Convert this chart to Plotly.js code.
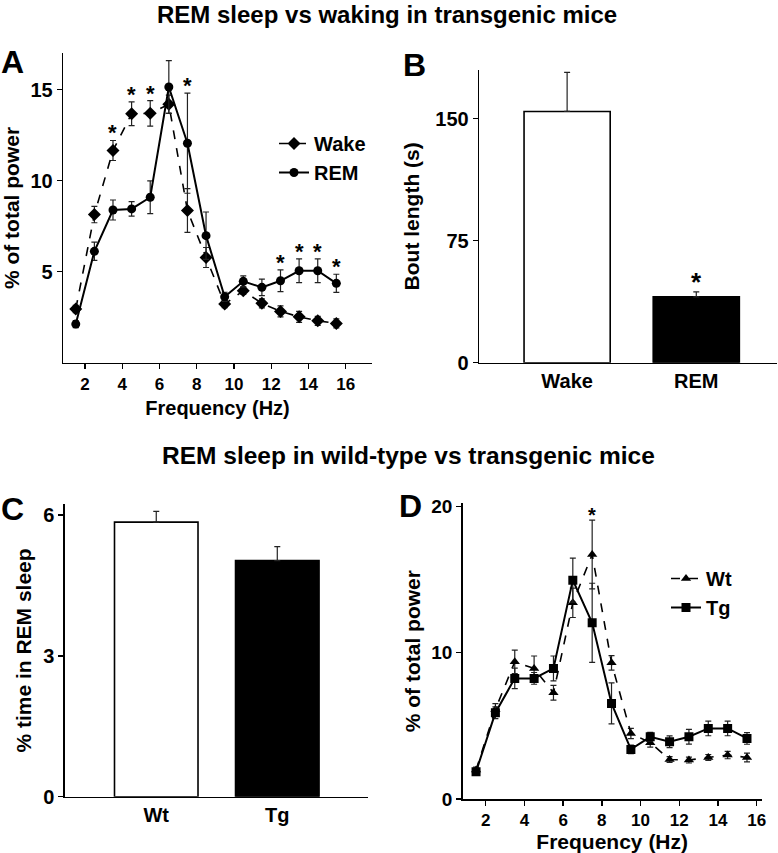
<!DOCTYPE html>
<html>
<head>
<meta charset="utf-8">
<script src="https://cdn.plot.ly/plotly-3.0.1.min.js"></script>
<style>html,body{margin:0;padding:0;background:#fff;}#chart{width:778px;height:853px;}</style>
</head>
<body>
<div id="chart"></div>
<script>
// ---- Data ----
const freq = [1.5,2.5,3.5,4.5,5.5,6.5,7.5,8.5,9.5,10.5,11.5,12.5,13.5,14.5,15.5];
const wakePow = [2.95,8.14,11.66,13.68,13.7,14.2,8.36,5.78,3.22,3.95,3.26,2.82,2.52,2.3,2.16];
const wakeErr = [0.2,0.45,0.55,0.65,0.7,0.5,1.2,0.55,0.2,0.2,0.25,0.3,0.3,0.25,0.25];
const remPow  = [2.12,6.12,8.39,8.45,9.09,15.15,12.06,6.98,3.62,4.47,4.14,4.5,5.05,5.05,4.36];
const remErr  = [0.2,0.5,0.55,0.4,0.9,1.45,2.75,1.3,0.25,0.3,0.45,0.6,0.65,0.65,0.5];
const starsA  = [3.5,4.5,5.5,7.5,12.5,13.5,14.5,15.5];

const boutCats = ['Wake','REM'];
const boutLen  = [154.5,40.5];
const boutErr  = [24,3];
const starsB   = ['REM'];

const groupCats = ['Wt','Tg'];
const remTime   = [5.85,5.03];
const remTimeErr= [0.23,0.3];

const wtPow = [1.98,6.12,9.37,8.92,7.26,13.4,16.7,9.3,4.48,3.85,2.7,2.66,2.84,3.0,2.84];
const wtErr = [0.2,0.4,0.8,0.85,0.5,1.0,2.35,0.5,0.35,0.3,0.2,0.2,0.2,0.25,0.3];
const tgPow = [1.87,5.89,8.24,8.24,8.92,14.95,12.04,6.53,3.39,4.25,3.91,4.25,4.82,4.82,4.14];
const tgErr = [0.2,0.4,0.7,0.4,0.85,1.5,2.7,1.4,0.3,0.3,0.4,0.5,0.5,0.5,0.4];
const starsD = [7.5];

// ---- Styling ----
const FAM = 'Liberation Sans, Arial, Helvetica, sans-serif';
const bold = (s,c) => ({family:FAM, size:s, color:c||'#000', weight:'bold'});
const W = 778, H = 853;
const px = v => v / W;
const py = v => 1 - v / H;

function errBar(arr, minus){
  const o = {type:'data', array:arr, visible:true, color:'#222', thickness:1.2, width:3};
  if (minus) { o.symmetric = false; o.arrayminus = minus; }
  return o;
}

const traces = [
  {x:freq, y:wakePow, name:'Wake', type:'scatter', mode:'lines+markers', xaxis:'x', yaxis:'y',
   line:{color:'#000', width:1.6, dash:'dash'}, marker:{symbol:'diamond', size:10, color:'#000'},
   error_y:errBar(wakeErr), legend:'legend'},
  {x:freq, y:remPow, name:'REM', type:'scatter', mode:'lines+markers', xaxis:'x', yaxis:'y',
   line:{color:'#000', width:2}, marker:{symbol:'circle', size:9, color:'#000'},
   error_y:errBar(remErr), legend:'legend'},
  {x:boutCats, y:boutLen, type:'bar', xaxis:'x2', yaxis:'y2', width:0.667, showlegend:false,
   marker:{color:['#fff','#000'], line:{color:'#000', width:1.6}},
   error_y:errBar(boutErr, [0,0])},
  {x:groupCats, y:remTime, type:'bar', xaxis:'x3', yaxis:'y3', width:0.69, showlegend:false,
   marker:{color:['#fff','#000'], line:{color:'#000', width:1.6}},
   error_y:errBar(remTimeErr, [0,0])},
  {x:freq, y:wtPow, name:'Wt', type:'scatter', mode:'lines+markers', xaxis:'x4', yaxis:'y4',
   line:{color:'#000', width:1.6, dash:'dash'}, marker:{symbol:'triangle-up', size:9, color:'#000'},
   error_y:errBar(wtErr), legend:'legend2'},
  {x:freq, y:tgPow, name:'Tg', type:'scatter', mode:'lines+markers', xaxis:'x4', yaxis:'y4',
   line:{color:'#000', width:2}, marker:{symbol:'square', size:9, color:'#000'},
   error_y:errBar(tgErr), legend:'legend2'}
];

const axBase = {showline:true, linecolor:'#000', linewidth:1.6, showgrid:false, zeroline:false,
  ticks:'outside', ticklen:5, tickwidth:1.4, tickcolor:'#000', automargin:false, fixedrange:true};

const annotations = [];
// Stars
starsA.forEach(f => {
  const i = freq.indexOf(f);
  const top = Math.max(wakePow[i]+wakeErr[i], remPow[i]+remErr[i]);
  annotations.push({x:f, y:top, xref:'x', yref:'y', text:'*', showarrow:false,
    font:bold(22), yanchor:'bottom', yshift:-7});
});
starsB.forEach(c => {
  const i = boutCats.indexOf(c);
  annotations.push({x:c, y:boutLen[i]+boutErr[i], xref:'x2', yref:'y2', text:'*', showarrow:false,
    font:bold(26), yanchor:'bottom', yshift:-7});
});
starsD.forEach(f => {
  const i = freq.indexOf(f);
  const top = Math.max(wtPow[i]+wtErr[i], tgPow[i]+tgErr[i]);
  annotations.push({x:f, y:top, xref:'x4', yref:'y4', text:'*', showarrow:false,
    font:bold(20), yanchor:'bottom', yshift:-8});
});
// Titles
annotations.push({x:px(387), y:1, xref:'paper', yref:'paper', xanchor:'center', yanchor:'top',
  text:'REM sleep vs waking in transgenic mice', showarrow:false, font:bold(24), borderpad:0});
annotations.push({x:px(408), y:py(455), xref:'paper', yref:'paper', xanchor:'center', yanchor:'middle',
  text:'REM sleep in wild-type vs transgenic mice', showarrow:false, font:bold(24.5)});
// Panel letters
[['A',13,62],['B',414,65],['C',13,509],['D',411,506]].forEach(([t,x,y]) => {
  annotations.push({x:px(x), y:py(y), xref:'paper', yref:'paper', xanchor:'center', yanchor:'middle',
    text:t, showarrow:false, font:bold(32)});
});

const layout = {
  width:W, height:H, margin:{l:0,r:0,t:0,b:0}, paper_bgcolor:'#fff', plot_bgcolor:'rgba(0,0,0,0)',
  font:bold(18),
  xaxis:Object.assign({}, axBase, {domain:[px(63.3), px(371.7)], range:[0.83,17.4], anchor:'y',
    tickvals:[2,4,6,8,10,12,14,16], tickfont:bold(17),
    title:{text:'Frequency (Hz)', font:bold(20), standoff:8}}),
  yaxis:Object.assign({}, axBase, {domain:[py(362.7), py(53.3)], range:[0,17], anchor:'x',
    tickvals:[5,10,15], tickfont:bold(20),
    title:{text:'% of total power', font:bold(21), standoff:10}}),
  xaxis2:Object.assign({}, axBase, {domain:[px(479.3), px(777)], range:[-0.68,1.625], anchor:'y2',
    ticks:'', tickfont:bold(20)}),
  yaxis2:Object.assign({}, axBase, {domain:[py(362.7), py(70)], range:[0,180], anchor:'x2',
    tickvals:[0,75,150], tickfont:bold(20),
    title:{text:'Bout length (s)', font:bold(21), standoff:10}}),
  xaxis3:Object.assign({}, axBase, {domain:[px(65), px(367.7)], range:[-0.754,1.747], anchor:'y3',
    ticks:'', tickfont:bold(20)}),
  yaxis3:Object.assign({}, axBase, {domain:[py(796.7), py(504.3)], range:[0,6.23], anchor:'x3',
    tickvals:[0,3,6], tickfont:bold(20),
    title:{text:'% time in REM sleep', font:bold(21), standoff:6}}),
  xaxis4:Object.assign({}, axBase, {domain:[px(462.7), px(761.7)], range:[0.81,16.26], anchor:'y4',
    tickvals:[2,4,6,8,10,12,14,16], tickfont:bold(17),
    title:{text:'Frequency (Hz)', font:bold(21), standoff:8}}),
  yaxis4:Object.assign({}, axBase, {domain:[py(799), py(503.3)], range:[0,20.2], anchor:'x4',
    tickvals:[0,10,20], tickfont:bold(19),
    title:{text:'% of total power', font:bold(21), standoff:5}}),
  legend:{x:px(274), y:py(124), xanchor:'left', yanchor:'top', xref:'paper', yref:'paper',
    bgcolor:'rgba(0,0,0,0)', font:bold(20), tracegroupgap:0, itemwidth:30},
  legend2:{x:px(666), y:py(559), xanchor:'left', yanchor:'top', xref:'paper', yref:'paper',
    bgcolor:'rgba(0,0,0,0)', font:bold(20), tracegroupgap:0, itemwidth:30},
  annotations:annotations,
  showlegend:true
};

Plotly.newPlot('chart', traces, layout, {staticPlot:true, displayModeBar:false});
</script>
</body>
</html>
